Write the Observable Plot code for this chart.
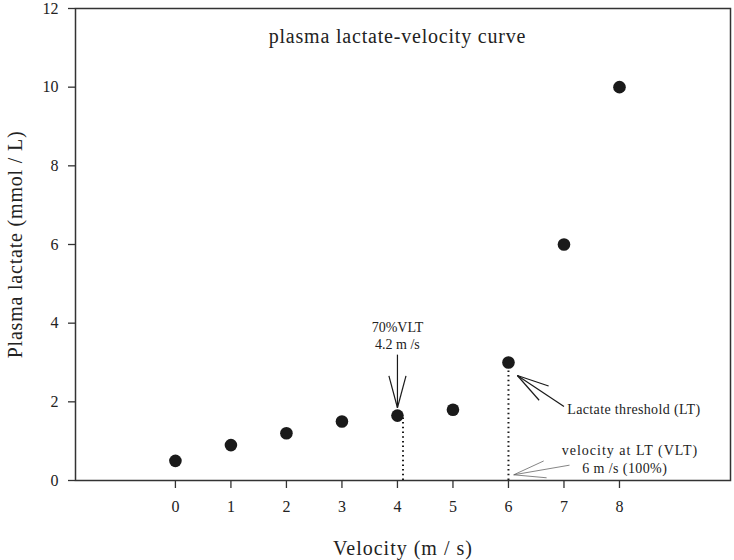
<!DOCTYPE html>
<html>
<head>
<meta charset="utf-8">
<script src="https://cdn.jsdelivr.net/npm/d3@7"></script>
<script src="https://cdn.jsdelivr.net/npm/@observablehq/plot@0.6"></script>
<style>
  html, body { margin: 0; padding: 0; background: #fff; }
</style>
</head>
<body>
<div id="chart"></div>
<script>
// ---- data ----
const velocity = [0, 1, 2, 3, 4, 5, 6, 7, 8];
const lactate  = [0.5, 0.9, 1.2, 1.5, 1.65, 1.8, 3.0, 6.0, 10.0];
const xTicks = [0, 1, 2, 3, 4, 5, 6, 7, 8];
const yTicks = [0, 2, 4, 6, 8, 10, 12];
const xDomain = [-1.8, 10];
const yDomain = [0, 12];

// dotted drop lines: [x, yTop]
const dropX = [4.1, 6.0];
const dropTop = [1.6, 2.79];

// annotation texts
const noteLabels = ["70%VLT", "4.2 m /s", "Lactate threshold (LT)", "velocity at LT (VLT)", "6 m /s (100%)"];
const noteX = [4.0, 4.0, 7.06, 6.96, 7.33];
const noteY = [3.89, 3.45, 1.81, 0.76, 0.31];
const noteAnchor = ["middle", "middle", "start", "start", "start"];
const noteSpacing = [0, 0, 0.35, 1.0, 0.4];

// arrows: tail -> tip (data units)
const arrowTailX = [4.0, 7.0, 7.10];
const arrowTailY = [3.2, 1.88, 0.39];
const arrowTipX  = [4.0, 6.16, 6.095];
const arrowTipY  = [1.85, 2.67, 0.145];
const arrowColor = ["#1a1a1a", "#1a1a1a", "#666"];
const arrowWidth = [1.2, 1.2, 0.8];

const title = "plasma lactate-velocity curve";
const titleX = 4.0, titleY = 11.29;
const xLabel = "Velocity (m / s)";
const yLabel = "Plasma lactate (mmol / L)";

// ---- layout ----
const W = 734, H = 560;
const mL = 75, mR = 4, mT = 8, mB = 80;

// linear helpers matching the plot's scales (for arrowhead geometry)
const pxX = x => mL + (x - xDomain[0]) / (xDomain[1] - xDomain[0]) * (W - mL - mR);
const pxY = y => (H - mB) - (y - yDomain[0]) / (yDomain[1] - yDomain[0]) * (H - mB - mT);
const dX = px => xDomain[0] + (px - mL) / (W - mL - mR) * (xDomain[1] - xDomain[0]);
const dY = py => yDomain[0] + ((H - mB) - py) / (H - mB - mT) * (yDomain[1] - yDomain[0]);

const points = velocity.map((v, i) => ({v, l: lactate[i]}));
const drops = dropX.map((x, i) => ({x, y1: 0, y2: dropTop[i]}));
const notes = noteLabels.map((t, i) => ({t, x: noteX[i], y: noteY[i], a: noteAnchor[i]}));

const segs = [];
const headLen = 33, half = 15 * Math.PI / 180;
arrowTipX.forEach((_, i) => {
  const c = arrowColor[i], w = arrowWidth[i];
  segs.push({x1: arrowTailX[i], y1: arrowTailY[i], x2: arrowTipX[i], y2: arrowTipY[i], c, w});
  const tx = pxX(arrowTipX[i]), ty = pxY(arrowTipY[i]);
  const ang = Math.atan2(pxY(arrowTailY[i]) - ty, pxX(arrowTailX[i]) - tx);
  for (const s of [-1, 1]) {
    const a = ang + s * half;
    segs.push({x1: arrowTipX[i], y1: arrowTipY[i],
               x2: dX(tx + headLen * Math.cos(a)), y2: dY(ty + headLen * Math.sin(a)), c, w});
  }
});

const font = "'Liberation Serif', 'Times New Roman', serif";

const chart = Plot.plot({
  width: W, height: H,
  marginLeft: mL, marginRight: mR, marginTop: mT, marginBottom: mB,
  style: {fontFamily: font, fontSize: "16px", color: "#222", background: "#fff"},
  x: {domain: xDomain, label: null},
  y: {domain: yDomain, label: null},
  marks: [
    Plot.axisX(xTicks, {tickSize: 8, tickPadding: 12, fontSize: 16, stroke: "#333", strokeWidth: 1.3, label: null}),
    Plot.axisY(yTicks, {tickSize: 7, tickPadding: 10, fontSize: 16, stroke: "#333", strokeWidth: 1.3, label: null}),
    Plot.frame({stroke: "#333", strokeWidth: 1.5}),
    Plot.ruleX(drops, {x: "x", y1: "y1", y2: "y2", stroke: "#1a1a1a", strokeWidth: 2, strokeDasharray: "1.5,3.2"}),
    Plot.link(segs, {x1: "x1", y1: "y1", x2: "x2", y2: "y2", stroke: d => d.c, strokeWidth: d => d.w}),
    Plot.dot(points, {x: "v", y: "l", r: 6.3, fill: "#1a1a1a", stroke: "none"}),
    Plot.text(notes, {filter: d => d.a === "middle", x: "x", y: "y", text: "t", textAnchor: "middle", fontSize: 14, fill: "#222"}),
    Plot.text(notes, {filter: d => d.a === "start", x: "x", y: "y", text: "t", textAnchor: "start", fontSize: 14, fill: "#222"}),
    Plot.text([title], {x: () => titleX, y: () => titleY, text: d => d, fontSize: 20, fill: "#222"}),
    Plot.text([xLabel], {frameAnchor: "bottom", dy: 68, text: d => d, textAnchor: "middle", lineAnchor: "middle", fontSize: 20, fill: "#222"}),
    Plot.text([yLabel], {frameAnchor: "left", dx: -60, rotate: -90, text: d => d, textAnchor: "middle", lineAnchor: "middle", fontSize: 20, fill: "#222"})
  ]
});

// letter spacing to match the reference's loose typesetting
const spacing = new Map([[title, 0.8], [xLabel, 1.0], [yLabel, 0.8]]);
noteLabels.forEach((t, i) => spacing.set(t, noteSpacing[i]));
d3.select(chart).selectAll("text").each(function() {
  const s = spacing.get(this.textContent);
  if (s) this.setAttribute("letter-spacing", s);
});

document.getElementById("chart").appendChild(chart);
</script>
</body>
</html>
